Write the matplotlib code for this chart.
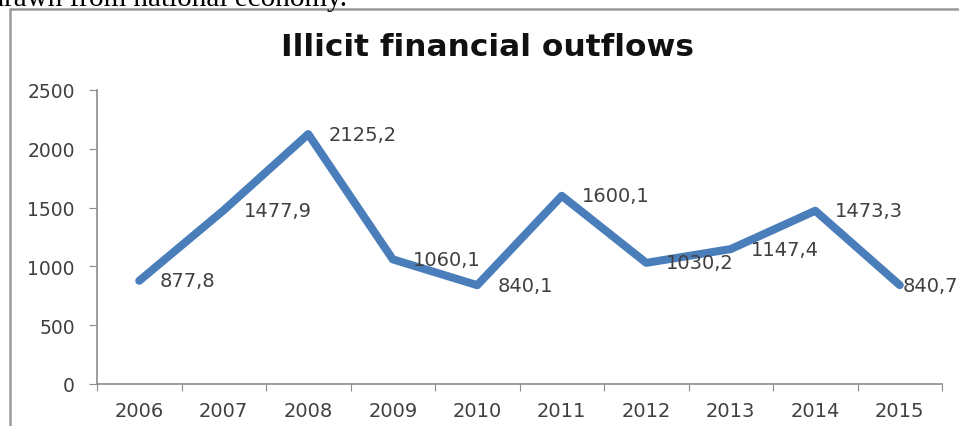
import matplotlib
matplotlib.use("Agg")
import matplotlib.pyplot as plt
from matplotlib.patches import Rectangle

years = ["2006", "2007", "2008", "2009", "2010", "2011", "2012", "2013", "2014", "2015"]
outflows = [877.8, 1477.9, 2125.2, 1060.1, 840.1, 1600.1, 1030.2, 1147.4, 1473.3, 840.7]
value_labels = ["877,8", "1477,9", "2125,2", "1060,1", "840,1", "1600,1", "1030,2", "1147,4", "1473,3", "840,7"]
y_ticks = [0, 500, 1000, 1500, 2000, 2500]

W, H = 959, 427
fig = plt.figure(figsize=(W / 100, H / 100), dpi=100)

# chart frame (cut off at right and bottom, like the scanned page)
fig.patches.append(Rectangle((10 / W, -0.2), 1.2, 1.2 - 10 / H,
                             transform=fig.transFigure, fill=False,
                             edgecolor="#9a9a9a", linewidth=1.8))

# bit of page text clipped at the very top
fig.text(347 / W, 1 - 6 / H, "withdrawn from national economy.",
         ha="right", va="baseline", fontsize=21, family="Liberation Serif",
         color="black")

ax = fig.add_axes([97 / W, 1 - 385 / H, 845 / W, 294 / H])
x = [i + 0.5 for i in range(len(years))]
ax.plot(x, outflows, color="#4a7ebb", linewidth=5.8,
        solid_joinstyle="round", solid_capstyle="round", clip_on=False)

for i, (xi, v, lab) in enumerate(zip(x, outflows, value_labels)):
    dx = 20 if i < len(years) - 1 else 3
    ax.annotate(lab, (xi, v), xytext=(dx, 0), textcoords="offset pixels",
                ha="left", va="center", fontsize=14, color="#404040",
                annotation_clip=False)

ax.set_xlim(0, len(years))
ax.set_ylim(0, 2500)
ax.set_xticks(range(len(years) + 1))
ax.set_xticklabels([])
ax.set_xticks(x, minor=True)
ax.set_xticklabels(years, minor=True)
ax.tick_params(axis="x", which="minor", length=0, pad=12, labelsize=14,
               labelcolor="#404040")
ax.tick_params(axis="x", which="major", length=5, color="#8c8c8c")
ax.set_yticks(y_ticks)
ax.tick_params(axis="y", length=6, color="#8c8c8c", pad=10, labelsize=13.5,
               labelcolor="#404040")

for s in ["top", "right"]:
    ax.spines[s].set_visible(False)
for s in ["left", "bottom"]:
    ax.spines[s].set_color("#8c8c8c")
    ax.spines[s].set_linewidth(1.2)

fig.text(487 / W, 1 - 47 / H, "Illicit financial outflows", ha="center",
         va="center", fontsize=22.5, fontweight="bold", color="#111111")

fig.savefig("out.png", dpi=100)
